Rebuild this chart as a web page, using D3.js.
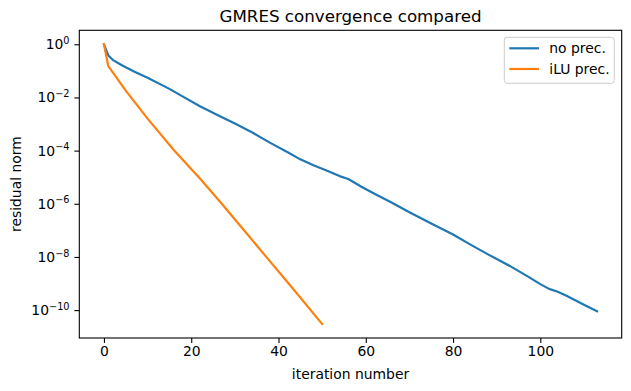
<!DOCTYPE html>
<html>
<head>
<meta charset="utf-8">
<script src="https://cdn.jsdelivr.net/npm/d3@7"></script>
<style>
  body { margin: 0; background: #fff; }
  svg { display: block; font-family: "DejaVu Sans", sans-serif; }
</style>
</head>
<body>
<svg id="chart" width="631" height="391"></svg>
<script>
// residual history (iteration, residual norm)
var noPrecIter = [0, 1, 2, 4, 7, 10, 15, 18, 22, 26, 30, 34, 38, 42, 45, 48, 51, 54, 56, 59,
    62, 66, 70, 75, 80, 84, 88, 93, 97, 100, 102, 104, 106, 110, 113];
var noPrecResid = [1, 3.8e-1, 2.6e-1, 1.66e-1, 9.3e-2, 5.5e-2, 2.1e-2, 1.1e-2, 4.7e-3, 2.2e-3,
    1.05e-3, 4.8e-4, 2e-4, 8.9e-5, 4.7e-5, 2.8e-5, 1.8e-5, 1.1e-5, 8.5e-6, 4.4e-6,
    2.4e-6, 1.1e-6, 4.8e-7, 1.8e-7, 7e-8, 2.9e-8, 1.25e-8, 4.6e-9, 1.9e-9, 9.5e-10,
    6.3e-10, 4.9e-10, 3.5e-10, 1.6e-10, 9e-11];

var iluIter = [0, 1, 5, 10, 16, 22, 27, 32, 37, 43, 50];
var iluResid = [1, 1.5e-1, 1.8e-2, 1.6e-3, 1.05e-4, 8.9e-6, 1e-6, 1.05e-7, 1.1e-8, 7.4e-10, 3e-11];

var xTicks = [0, 20, 40, 60, 80, 100];
var yTickExps = [0, -2, -4, -6, -8, -10];

var seriesNames = ["no prec.", "iLU prec."];
var seriesColors = ["#1f77b4", "#ff7f0e"];

/*************************
 * layout
 *************************/
var axLeft = 79.3, axRight = 621.7, axTop = 30.3, axBottom = 338;
var svg = d3.select("#chart");

var series = [
    { name: seriesNames[0], color: seriesColors[0], pts: noPrecIter.map(function(d, i) { return [d, noPrecResid[i]]; }) },
    { name: seriesNames[1], color: seriesColors[1], pts: iluIter.map(function(d, i) { return [d, iluResid[i]]; }) }
];

// matplotlib style 5% margins (log space for y)
var allX = noPrecIter.concat(iluIter);
var allY = noPrecResid.concat(iluResid);
var x0 = d3.min(allX), x1 = d3.max(allX), xm = (x1 - x0) * 0.05;
var l0 = Math.log10(d3.min(allY)), l1 = Math.log10(d3.max(allY)), lm = (l1 - l0) * 0.05;

var x = d3.scaleLinear().domain([x0 - xm, x1 + xm]).range([axLeft, axRight]);
var y = d3.scaleLog().domain([Math.pow(10, l0 - lm), Math.pow(10, l1 + lm)]).range([axBottom, axTop]);

// lines
var line = d3.line()
    .x(function(d) { return x(d[0]); })
    .y(function(d) { return y(d[1]); });

var plot = svg.append("g");
series.forEach(function(s) {
    plot.append("path")
        .datum(s.pts)
        .attr("d", line)
        .attr("fill", "none")
        .attr("stroke", s.color)
        .attr("stroke-width", 2.2)
        .attr("stroke-linejoin", "round")
        .attr("stroke-linecap", "square");
});

// x axis
var xAxis = d3.axisBottom(x).tickValues(xTicks).tickSize(4.9).tickPadding(3.5);
var gx = svg.append("g").attr("transform", "translate(0," + axBottom + ")").call(xAxis);
gx.select(".domain").remove();
gx.selectAll("line").attr("stroke", "#000").attr("stroke-width", 1.1);
gx.selectAll("text").attr("font-size", 13.9).attr("fill", "#000").attr("font-family", "DejaVu Sans");

// y axis, labels as 10^n
var yAxis = d3.axisLeft(y)
    .tickValues(yTickExps.map(function(e) { return Math.pow(10, e); }))
    .tickSize(4.9).tickPadding(4.9)
    .tickFormat("");
var gy = svg.append("g").attr("transform", "translate(" + axLeft + ",0)").call(yAxis);
gy.select(".domain").remove();
gy.selectAll("line").attr("stroke", "#000").attr("stroke-width", 1.1);
gy.selectAll(".tick").each(function(d) {
    var e = Math.round(Math.log10(d));
    var t = d3.select(this).select("text")
        .attr("font-size", 13.9).attr("fill", "#000")
        .attr("font-family", "DejaVu Sans")
        .attr("dy", "0.32em").attr("x", -9.8);
    t.text("");
    t.append("tspan").text("10");
    t.append("tspan").attr("font-size", 9.7).attr("dy", "-0.55em")
        .text(e < 0 ? "\u2212" + (-e) : String(e));
});

// frame
svg.append("rect")
    .attr("x", axLeft).attr("y", axTop)
    .attr("width", axRight - axLeft).attr("height", axBottom - axTop)
    .attr("fill", "none").attr("stroke", "#000").attr("stroke-width", 1.1);

// labels
svg.append("text")
    .attr("x", (axLeft + axRight) / 2).attr("y", 22)
    .attr("text-anchor", "middle").attr("font-size", 16.7)
    .text("GMRES convergence compared");

svg.append("text")
    .attr("x", (axLeft + axRight) / 2).attr("y", 379)
    .attr("text-anchor", "middle").attr("font-size", 13.9)
    .text("iteration number");

svg.append("text")
    .attr("transform", "translate(21," + (axTop + axBottom) / 2 + ") rotate(-90)")
    .attr("text-anchor", "middle").attr("font-size", 13.9)
    .text("residual norm");

// legend
var lg = svg.append("g");
lg.append("rect")
    .attr("x", 504.3).attr("y", 37.3).attr("width", 110).attr("height", 46)
    .attr("rx", 2.8)
    .attr("fill", "#fff").attr("fill-opacity", 0.8)
    .attr("stroke", "#cccccc").attr("stroke-width", 1);
series.forEach(function(s, i) {
    var ly = 48.3 + i * 20.7;
    lg.append("line")
        .attr("x1", 509.3).attr("x2", 539)
        .attr("y1", ly).attr("y2", ly)
        .attr("stroke", s.color).attr("stroke-width", 2.2);
    lg.append("text")
        .attr("x", 549.3).attr("y", ly + 5)
        .attr("font-size", 13.9)
        .text(s.name);
});
</script>
</body>
</html>
